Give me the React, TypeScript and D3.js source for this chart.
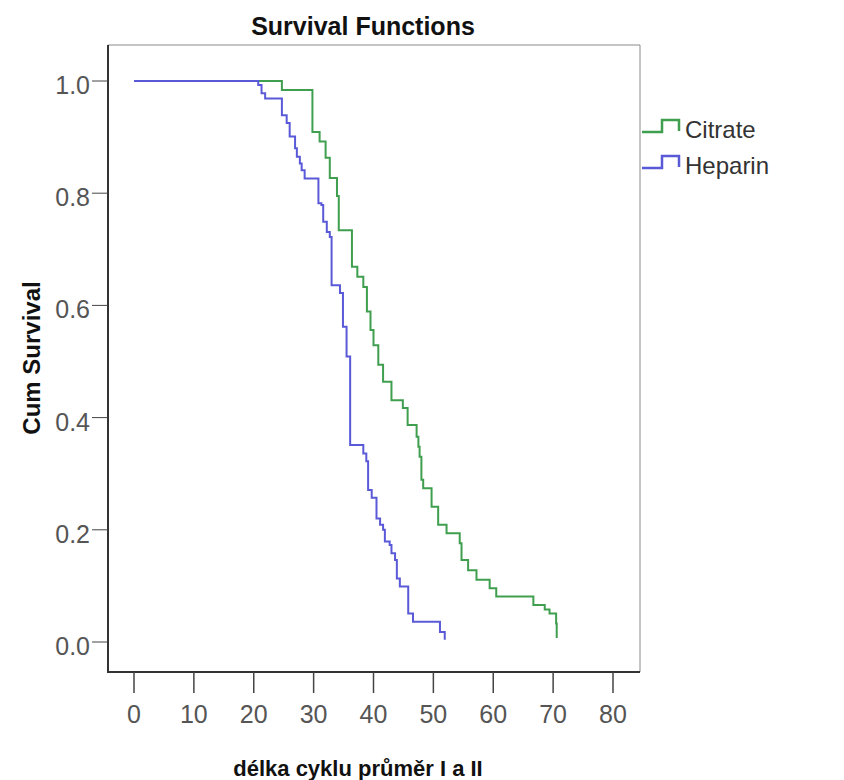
import React from "react";
import * as d3 from "d3";

// ---- Data ----
const seriesNames = ["Citrate", "Heparin"];
const seriesColors = ["#3f9f4f", "#5a5ad8"];

const citrateTimes = [0, 24.7, 29.8, 31.0, 32.0, 32.7, 33.9, 34.2, 36.4, 37.3, 38.3, 38.9, 39.5, 40.0, 40.8, 41.6, 43.0, 44.9, 45.7, 47.2, 47.5, 47.7, 48.0, 48.3, 49.7, 50.8, 52.2, 54.4, 54.7, 55.8, 57.2, 59.4, 60.5, 66.7, 68.6, 69.4, 70.5, 70.6];
const citrateSurv = [1.0, 0.984, 0.909, 0.892, 0.863, 0.827, 0.795, 0.734, 0.669, 0.651, 0.633, 0.589, 0.556, 0.529, 0.494, 0.464, 0.431, 0.417, 0.387, 0.366, 0.348, 0.33, 0.289, 0.274, 0.241, 0.209, 0.194, 0.176, 0.146, 0.128, 0.111, 0.096, 0.081, 0.066, 0.058, 0.051, 0.033, 0.007];

const heparinTimes = [0, 20.75, 21.3, 21.9, 24.7, 25.5, 26.0, 26.9, 27.2, 27.7, 28.0, 28.5, 30.8, 31.3, 31.6, 32.2, 32.7, 33.0, 34.4, 34.9, 35.5, 36.1, 38.3, 38.8, 39.1, 39.7, 40.5, 41.1, 41.6, 41.9, 42.7, 43.0, 43.6, 43.9, 44.4, 45.8, 46.6, 51.1, 51.9];
const heparinSurv = [1.0, 0.993, 0.978, 0.969, 0.939, 0.925, 0.901, 0.88, 0.865, 0.853, 0.841, 0.826, 0.782, 0.779, 0.749, 0.731, 0.722, 0.636, 0.622, 0.562, 0.509, 0.351, 0.336, 0.322, 0.271, 0.257, 0.22, 0.209, 0.2, 0.179, 0.173, 0.158, 0.146, 0.113, 0.099, 0.051, 0.036, 0.018, 0.004];

const xTicks = [0, 10, 20, 30, 40, 50, 60, 70, 80];
const yTicks = [0.0, 0.2, 0.4, 0.6, 0.8, 1.0];

const title = "Survival Functions";
const xTitle = "délka cyklu průměr I a II";
const yTitle = "Cum Survival";

export default function App() {
  const W = 844, H = 780;
  const frame = { left: 108, right: 640, top: 45, bottom: 672 };
  const x = d3.scaleLinear().domain([0, 80]).range([134, 613]);
  const y = d3.scaleLinear().domain([0, 1]).range([642, 81]);

  const line = d3
    .line<[number, number]>()
    .x((d) => x(d[0]))
    .y((d) => y(d[1]))
    .curve(d3.curveStepAfter);

  const series = [
    citrateTimes.map((t, i) => [t, citrateSurv[i]] as [number, number]),
    heparinTimes.map((t, i) => [t, heparinSurv[i]] as [number, number]),
  ];

  const font = "'Liberation Sans', Arial, sans-serif";

  return (
    <div style={{ position: "absolute", left: 0, top: 0 }}>
      <svg width={W} height={H} style={{ display: "block", background: "#fff" }}>
        <text x={363} y={35} textAnchor="middle" fontFamily={font} fontWeight="bold" fontSize={25} fill="#111">
          {title}
        </text>

        {/* frame */}
        <line x1={frame.left} x2={frame.right} y1={frame.top} y2={frame.top} stroke="#8a8a8a" strokeWidth={1} />
        <line x1={frame.right} x2={frame.right} y1={frame.top} y2={frame.bottom} stroke="#8a8a8a" strokeWidth={1} />
        <line x1={frame.left} x2={frame.left} y1={frame.top} y2={frame.bottom + 1} stroke="#333" strokeWidth={2} />
        <line x1={frame.left - 1} x2={frame.right} y1={frame.bottom} y2={frame.bottom} stroke="#333" strokeWidth={2} />

        {/* y ticks */}
        {yTicks.map((v) => (
          <g key={"y" + v}>
            <line x1={frame.left - 16} x2={frame.left} y1={y(v)} y2={y(v)} stroke="#444" strokeWidth={1} />
            <text x={frame.left - 18} y={y(v) + 13} textAnchor="end" fontFamily={font} fontSize={25} fill="#555">
              {v.toFixed(1)}
            </text>
          </g>
        ))}

        {/* x ticks */}
        {xTicks.map((v) => (
          <g key={"x" + v}>
            <line x1={x(v)} x2={x(v)} y1={frame.bottom} y2={frame.bottom + 21} stroke="#444" strokeWidth={1.5} />
            <text x={x(v)} y={723} textAnchor="middle" fontFamily={font} fontSize={25} fill="#555">
              {v}
            </text>
          </g>
        ))}

        {/* curves */}
        {series.map((pts, i) => (
          <path key={seriesNames[i]} d={line(pts) || ""} fill="none" stroke={seriesColors[i]} strokeWidth={2} />
        ))}

        {/* axis titles */}
        <text x={358} y={776} textAnchor="middle" fontFamily={font} fontWeight="bold" fontSize={22} fill="#111">
          {xTitle}
        </text>
        <text
          transform={`translate(40, 358) rotate(-90)`}
          textAnchor="middle"
          fontFamily={font}
          fontWeight="bold"
          fontSize={24}
          fill="#111"
        >
          {yTitle}
        </text>

        {/* legend */}
        {seriesNames.map((name, i) => {
          const by = 132 + i * 36;
          return (
            <g key={"leg" + name}>
              <path
                d={`M${frame.right + 2},${by} H${frame.right + 22} V${by - 12} H${frame.right + 39} V${by - 1}`}
                fill="none"
                stroke={seriesColors[i]}
                strokeWidth={2.5}
              />
              <text x={685} y={by + 6} fontFamily={font} fontSize={24} fill="#333">
                {name}
              </text>
            </g>
          );
        })}
      </svg>
    </div>
  );
}
